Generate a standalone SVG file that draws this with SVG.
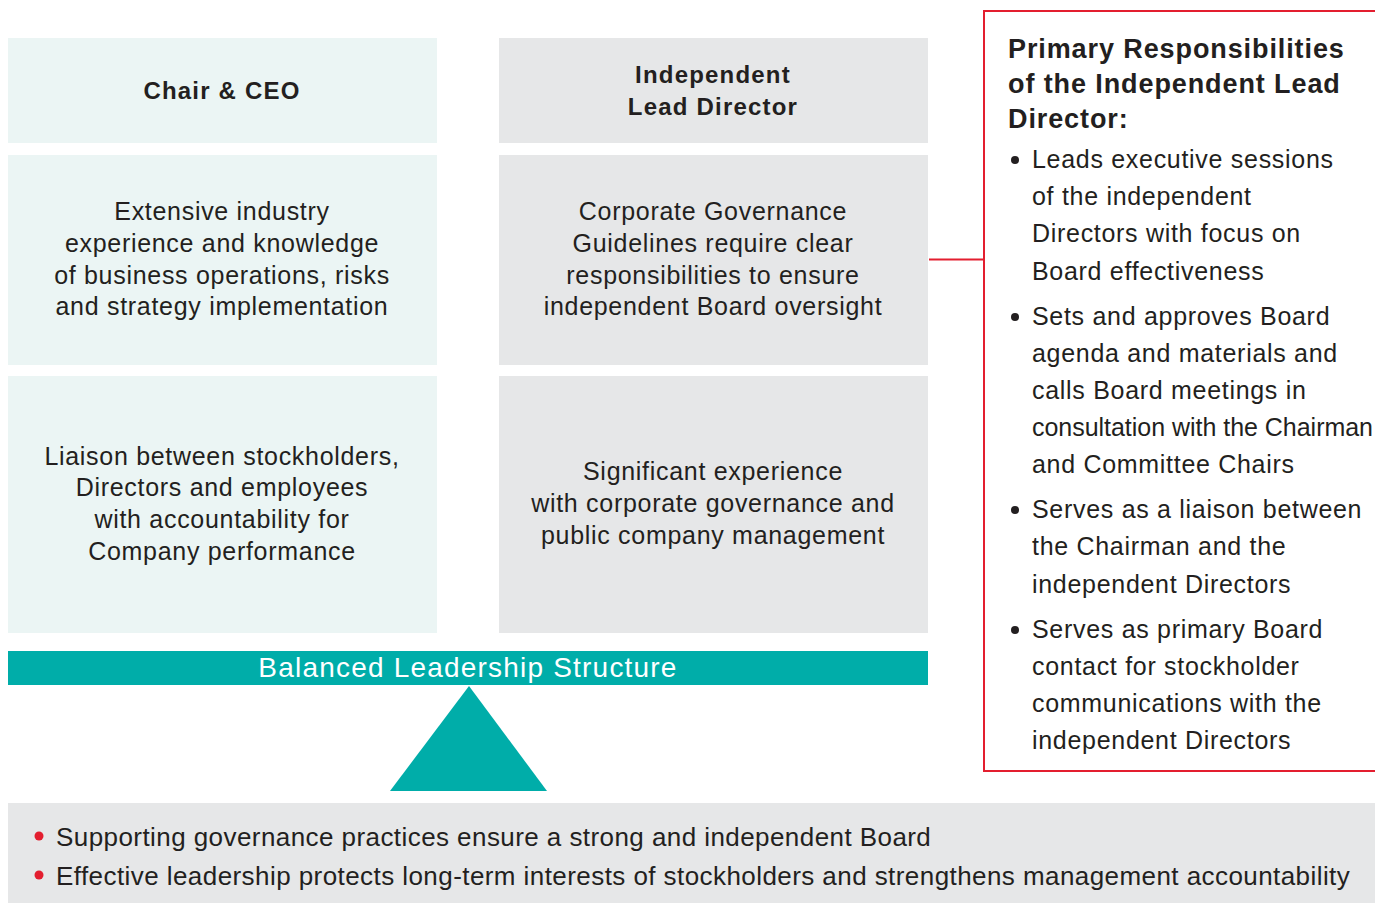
<svg xmlns="http://www.w3.org/2000/svg" width="1375" height="903" viewBox="0 0 1375 903">
  <style>
    text { font-family: "Liberation Sans", Arial, sans-serif; fill: #231f20; }
    .teal { fill: #ebf5f4; }
    .gray { fill: #e6e7e8; }
    .hd { font-size: 24px; font-weight: bold; text-anchor: middle; letter-spacing: 1.2px; }
    .body { font-size: 25px; text-anchor: middle; letter-spacing: 0.7px; }
    .ph { font-size: 27px; font-weight: bold; letter-spacing: 0.9px; }
    .li { font-size: 25px; letter-spacing: 0.7px; }
    .foot { font-size: 26px; letter-spacing: 0.43px; }
  </style>
  <rect width="1375" height="903" fill="#ffffff"/>

  <g id="chair-ceo">
    <rect class="teal" x="8" y="38" width="429" height="105"/>
    <text class="hd" x="222" y="99">Chair &amp; CEO</text>
  </g>
  <g id="chair-experience">
    <rect class="teal" x="8" y="155" width="429" height="210"/>
    <text class="body" x="222" y="220">Extensive industry</text>
    <text class="body" x="222" y="252">experience and knowledge</text>
    <text class="body" x="222" y="284">of business operations, risks</text>
    <text class="body" x="222" y="315">and strategy implementation</text>
  </g>
  <g id="chair-liaison">
    <rect class="teal" x="8" y="376" width="429" height="257"/>
    <text class="body" x="222" y="465">Liaison between stockholders,</text>
    <text class="body" x="222" y="496">Directors and employees</text>
    <text class="body" x="222" y="528">with accountability for</text>
    <text class="body" x="222" y="560">Company performance</text>
  </g>

  <g id="lead-director">
    <rect class="gray" x="499" y="38" width="429" height="105"/>
    <text class="hd" x="713" y="83">Independent</text>
    <text class="hd" x="713" y="115">Lead Director</text>
  </g>
  <g id="lead-guidelines">
    <rect class="gray" x="499" y="155" width="429" height="210"/>
    <text class="body" x="713" y="220">Corporate Governance</text>
    <text class="body" x="713" y="252">Guidelines require clear</text>
    <text class="body" x="713" y="284">responsibilities to ensure</text>
    <text class="body" x="713" y="315">independent Board oversight</text>
  </g>
  <g id="lead-experience">
    <rect class="gray" x="499" y="376" width="429" height="257"/>
    <text class="body" x="713" y="480">Significant experience</text>
    <text class="body" x="713" y="512">with corporate governance and</text>
    <text class="body" x="713" y="544">public company management</text>
  </g>

  <g id="balance">
    <rect x="8" y="651" width="920" height="34" fill="#00ada9"/>
    <text x="468" y="677" text-anchor="middle" style="font-size:28px; letter-spacing:1.2px; fill:#ffffff">Balanced Leadership Structure</text>
    <polygon points="469,686 547,791 390,791" fill="#00ada9"/>
  </g>

  <g id="connectors">
    <line x1="929" y1="259.5" x2="984" y2="259.5" stroke="#e31e2f" stroke-width="2"/>
  </g>

  <g id="responsibilities">
    <rect x="984" y="11" width="400" height="760" fill="#ffffff" stroke="#e31e2f" stroke-width="2"/>
    <text class="ph" x="1008" y="58">Primary Responsibilities</text>
    <text class="ph" x="1008" y="93">of the Independent Lead</text>
    <text class="ph" x="1008" y="128">Director:</text>
    <g>
      <circle cx="1015" cy="160" r="4" fill="#231f20"/>
      <text class="li" x="1032" y="168">Leads executive sessions</text>
      <text class="li" x="1032" y="205">of the independent</text>
      <text class="li" x="1032" y="242">Directors with focus on</text>
      <text class="li" x="1032" y="280">Board effectiveness</text>
      <circle cx="1015" cy="317" r="4" fill="#231f20"/>
      <text class="li" x="1032" y="325">Sets and approves Board</text>
      <text class="li" x="1032" y="362">agenda and materials and</text>
      <text class="li" x="1032" y="399">calls Board meetings in</text>
      <text class="li" x="1032" y="436" style="letter-spacing:0" textLength="341" lengthAdjust="spacing">consultation with the Chairman</text>
      <text class="li" x="1032" y="473">and Committee Chairs</text>
      <circle cx="1015" cy="510" r="4" fill="#231f20"/>
      <text class="li" x="1032" y="518">Serves as a liaison between</text>
      <text class="li" x="1032" y="555">the Chairman and the</text>
      <text class="li" x="1032" y="593">independent Directors</text>
      <circle cx="1015" cy="630" r="4" fill="#231f20"/>
      <text class="li" x="1032" y="638">Serves as primary Board</text>
      <text class="li" x="1032" y="675">contact for stockholder</text>
      <text class="li" x="1032" y="712">communications with the</text>
      <text class="li" x="1032" y="749">independent Directors</text>
    </g>
  </g>

  <g id="summary">
    <rect class="gray" x="8" y="803" width="1367" height="100"/>
    <circle cx="39" cy="836" r="4.5" fill="#e31e2f"/>
    <text class="foot" x="56" y="846">Supporting governance practices ensure a strong and independent Board</text>
    <circle cx="39" cy="875" r="4.5" fill="#e31e2f"/>
    <text class="foot" x="56" y="885">Effective leadership protects long-term interests of stockholders and strengthens management accountability</text>
  </g>
</svg>
